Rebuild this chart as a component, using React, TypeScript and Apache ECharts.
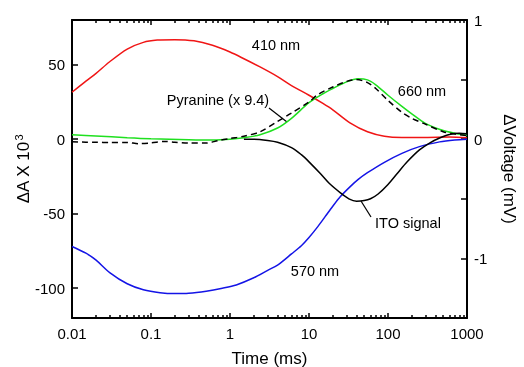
import React, { useEffect, useRef } from "react";
import * as echarts from "echarts";

// ---- data (time in ms) ----
const tRed = [0.01, 0.015, 0.02, 0.03, 0.05, 0.08, 0.12, 0.2, 0.35, 0.6, 1.0, 1.5, 2.4, 4, 6, 10, 15, 20, 33, 55, 90, 150, 300, 600, 1000];
const vRed = [31.5, 39, 44, 52, 60.5, 65, 66.5, 66.8, 66, 63, 58.5, 54, 48.5, 42, 36, 29.5, 24, 19.7, 11, 5, 2, 1.2, 1.2, 1.4, 1];

const tGreen = [0.01, 0.02, 0.05, 0.1, 0.3, 0.6, 1, 1.5, 2.4, 4, 6, 10, 15, 20, 30, 42, 55, 70, 100, 150, 200, 300, 500, 700, 1000];
const vGreen = [3, 2.2, 1, 0.3, -0.3, -0.5, 0, 1, 3, 7.5, 14, 24.5, 30.5, 34, 38.5, 40.5, 39.8, 36.5, 29.5, 22, 17, 10.5, 5.8, 4, 2.5];

const tPyr = [0.01, 0.015, 0.02, 0.03, 0.05, 0.07, 0.1, 0.15, 0.2, 0.3, 0.5, 0.7, 1, 1.5, 2.4, 4, 6, 10, 13, 20, 30, 40, 55, 70, 100, 150, 200, 300, 500, 700, 1000];
const vPyr = [-1.7, -2, -2, -2.3, -2.2, -3, -2.5, -1.5, -2, -2.6, -2.6, -1, 0.5, 2, 5, 12, 17.5, 25, 30, 35, 38.8, 40, 38, 34, 26, 18, 14, 10, 5, 3.5, 2.5];

const tBlue = [0.01, 0.015, 0.02, 0.03, 0.05, 0.08, 0.13, 0.2, 0.3, 0.5, 0.8, 1.2, 2, 3, 4, 6, 8, 10, 13, 16, 20, 25, 33, 42, 55, 90, 150, 250, 450, 700, 1000];
const vBlue = [-72, -76.5, -81, -89.5, -97, -101, -103, -103.6, -103.4, -102, -100, -97.8, -93, -88, -84.5, -77, -71.5, -66, -58.5, -52, -45, -38.5, -32, -27, -22.5, -15.5, -9.5, -5, -1.8, -0.5, 0];

const tIto = [1.5, 2, 3, 4, 6, 8, 10, 14, 18, 25, 32, 40, 50, 60, 75, 100, 130, 175, 250, 340, 450, 600, 800, 1000];
const vIto = [0, 0, -0.01, -0.025, -0.07, -0.13, -0.19, -0.29, -0.37, -0.45, -0.5, -0.52, -0.515, -0.5, -0.46, -0.38, -0.29, -0.19, -0.09, -0.03, 0.01, 0.04, 0.05, 0.045];

const xMajor = [0.01, 0.1, 1, 10, 100, 1000];
const xMinor: number[] = [];
[0.01, 0.1, 1, 10, 100].forEach((d) => {
  for (let k = 2; k <= 9; k++) xMinor.push(Number((k * d).toPrecision(3)));
});
const leftTicks = [-100, -50, 0, 50];
const rightTicks = [-1, -0.5, 0, 0.5, 1];
const rightLabels = [-1, 0, 1];

const FONT = "Liberation Sans, Arial, sans-serif";
const zip = (t: number[], v: number[]) => t.map((x, i) => [x, v[i]]);

export default function App() {
  const ref = useRef<HTMLDivElement>(null);
  useEffect(() => {
    if (!ref.current) return;
    const chart = echarts.init(ref.current, undefined, { renderer: "svg" });
    const axisLine = { show: true, onZero: false, lineStyle: { color: "#000", width: 2 } };
    const noLine = { show: false, onZero: false };
    const tickStyle = { color: "#000", width: 1.5 };
    const baseX = { type: "log", logBase: 10, min: 0.01, max: 1000, splitLine: { show: false } };
    const fmt = (v: number) => String(Number(Number(v).toPrecision(6)));
    chart.setOption({
      animation: false,
      grid: { left: 72, right: 57, top: 20, bottom: 49, outerBoundsMode: "none" },
      xAxis: [
        {
          ...baseX,
          position: "bottom",
          axisLine,
          axisTick: { show: true, inside: true, length: 5, lineStyle: tickStyle, customValues: xMajor },
          axisLabel: { color: "#000", fontSize: 15, fontFamily: FONT, margin: 8, customValues: xMajor, formatter: fmt },
          name: "Time (ms)",
          nameLocation: "middle",
          nameGap: 32,
          nameMoveOverlap: false,
          nameTextStyle: { color: "#000", fontSize: 17, fontFamily: FONT },
        },
        {
          ...baseX,
          position: "bottom",
          axisLine: noLine,
          axisTick: { show: true, inside: true, length: 3, lineStyle: tickStyle, customValues: xMinor },
          axisLabel: { show: false },
        },
        {
          ...baseX,
          position: "top",
          axisLine,
          axisTick: { show: true, inside: true, length: 5, lineStyle: tickStyle, customValues: xMajor },
          axisLabel: { show: false },
        },
        {
          ...baseX,
          position: "top",
          axisLine: noLine,
          axisTick: { show: true, inside: true, length: 3, lineStyle: tickStyle, customValues: xMinor },
          axisLabel: { show: false },
        },
      ],
      yAxis: [
        {
          type: "value",
          min: -120,
          max: 80,
          position: "left",
          axisLine,
          splitLine: { show: false },
          axisTick: { show: true, inside: true, length: 6, lineStyle: tickStyle, customValues: leftTicks },
          axisLabel: { color: "#000", fontSize: 15, fontFamily: FONT, margin: 7, customValues: leftTicks },
          name: "ΔA X 10{sup|3}",
          nameLocation: "middle",
          nameGap: 38,
          nameMoveOverlap: false,
          nameRotate: 90,
          nameTextStyle: {
            color: "#000",
            fontSize: 17,
            fontFamily: FONT,
            rich: { sup: { fontSize: 11, fontFamily: FONT, color: "#000", verticalAlign: "top", padding: [0, 0, 10, 1] } },
          },
        },
        {
          type: "value",
          min: -1.5,
          max: 1,
          position: "right",
          axisLine,
          splitLine: { show: false },
          axisTick: { show: true, inside: true, length: 6, lineStyle: tickStyle, customValues: rightTicks },
          axisLabel: { color: "#000", fontSize: 15, fontFamily: FONT, margin: 7, customValues: rightLabels },
          name: "ΔVoltage (mV)",
          nameLocation: "middle",
          nameGap: 34,
          nameMoveOverlap: false,
          nameRotate: -90,
          nameTextStyle: { color: "#000", fontSize: 17, fontFamily: FONT },
        },
      ],
      series: [
        { name: "410 nm", type: "line", xAxisIndex: 0, yAxisIndex: 0, data: zip(tRed, vRed), symbol: "none", smooth: 0.3, lineStyle: { color: "#f01515", width: 1.5 } },
        { name: "570 nm", type: "line", xAxisIndex: 0, yAxisIndex: 0, data: zip(tBlue, vBlue), symbol: "none", smooth: 0.3, lineStyle: { color: "#1414e6", width: 1.5 } },
        { name: "660 nm", type: "line", xAxisIndex: 0, yAxisIndex: 0, data: zip(tGreen, vGreen), symbol: "none", smooth: 0.3, lineStyle: { color: "#1fe01f", width: 1.5 } },
        { name: "Pyranine (x 9.4)", type: "line", xAxisIndex: 0, yAxisIndex: 0, data: zip(tPyr, vPyr), symbol: "none", smooth: 0.3, lineStyle: { color: "#000", width: 1.5, type: [6, 4] } },
        { name: "ITO signal", type: "line", xAxisIndex: 0, yAxisIndex: 1, data: zip(tIto, vIto), symbol: "none", smooth: 0.3, lineStyle: { color: "#000", width: 1.5 } },
      ],
      graphic: [
        { type: "text", x: 276, y: 45, style: { text: "410 nm", fontSize: 14.5, fontFamily: FONT, fill: "#000", align: "center", verticalAlign: "middle" } },
        { type: "text", x: 422, y: 91, style: { text: "660 nm", fontSize: 14.5, fontFamily: FONT, fill: "#000", align: "center", verticalAlign: "middle" } },
        { type: "text", x: 315, y: 271, style: { text: "570 nm", fontSize: 14.5, fontFamily: FONT, fill: "#000", align: "center", verticalAlign: "middle" } },
        { type: "text", x: 218, y: 100, style: { text: "Pyranine (x 9.4)", fontSize: 14.5, fontFamily: FONT, fill: "#000", align: "center", verticalAlign: "middle" } },
        { type: "text", x: 408, y: 223, style: { text: "ITO signal", fontSize: 14.5, fontFamily: FONT, fill: "#000", align: "center", verticalAlign: "middle" } },
        { type: "line", shape: { x1: 269, y1: 108, x2: 287, y2: 122 }, style: { stroke: "#000", lineWidth: 1.2 } },
        { type: "line", shape: { x1: 361, y1: 201, x2: 371, y2: 217 }, style: { stroke: "#000", lineWidth: 1.2 } },
      ],
    });
    return () => chart.dispose();
  }, []);
  return <div ref={ref} style={{ position: "fixed", left: 0, top: 0, width: 524, height: 367 }} />;
}
